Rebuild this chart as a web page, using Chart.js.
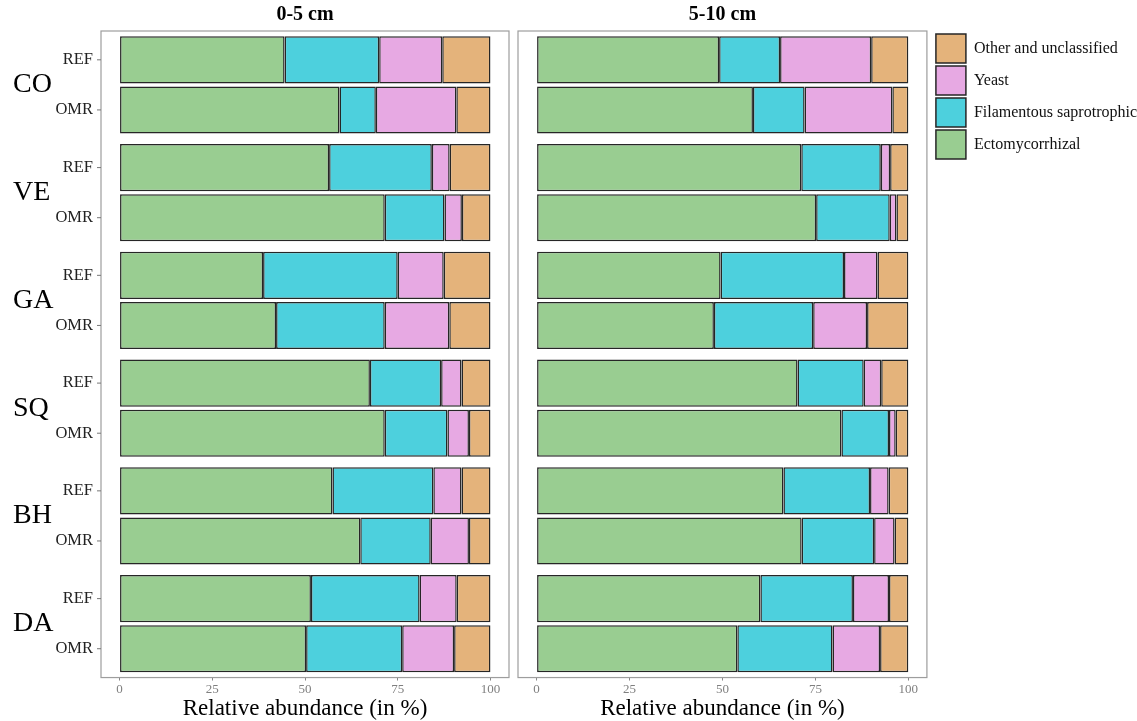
<!DOCTYPE html>
<html>
<head>
<meta charset="utf-8">
<script src="https://cdn.jsdelivr.net/npm/chart.js@4.4.0/dist/chart.umd.min.js"></script>
<style>
  body { margin: 0; background: #fff; }
  #wrap { position: relative; width: 1137px; height: 721px; overflow: hidden; }
  canvas { position: absolute; top: 0; }
</style>
</head>
<body>
<div id="wrap">
  <canvas id="chart1" width="510" height="721" style="left:0"></canvas>
  <canvas id="chart2" width="631" height="721" style="left:510px"></canvas>
</div>
<script>
// categories
const sites = ['CO', 'VE', 'GA', 'SQ', 'BH', 'DA'];
const treatments = ['REF', 'OMR'];
const groups = ['Ectomycorrhizal', 'Filamentous saprotrophic', 'Yeast', 'Other and unclassified'];
const colors = ['#99cd91', '#4dd0dd', '#e7a9e3', '#e4b37b'];
const tickValues = [0, 25, 50, 75, 100];

// 0-5 cm (values in %)
const ecto05Ref  = [44.5, 56.5, 38.7, 67.5, 57.4, 51.6];
const fila05Ref  = [25.5, 27.7, 36.3, 19.2, 27.2, 29.3];
const yeast05Ref = [17.0, 4.8, 12.4, 5.5, 7.6, 10.0];
const other05Ref = [13.0, 11.0, 12.6, 7.8, 7.8, 9.1];

const ecto05Omr  = [59.3, 71.5, 42.2, 71.5, 64.9, 50.3];
const fila05Omr  = [9.8, 16.1, 29.3, 16.9, 19.0, 25.9];
const yeast05Omr = [21.7, 4.7, 17.4, 5.8, 10.3, 14.0];
const other05Omr = [9.2, 7.7, 11.1, 5.8, 5.8, 9.8];

// 5-10 cm
const ecto510Ref  = [49.1, 71.2, 49.5, 70.2, 66.4, 60.2];
const fila510Ref  = [16.4, 21.4, 33.2, 17.8, 23.3, 24.9];
const yeast510Ref = [24.5, 2.5, 9.0, 4.7, 5.0, 9.7];
const other510Ref = [10.0, 4.9, 8.3, 7.3, 5.3, 5.2];

const ecto510Omr  = [58.2, 75.2, 47.7, 82.0, 71.3, 54.0];
const fila510Omr  = [13.9, 19.8, 26.7, 12.8, 19.5, 25.6];
const yeast510Omr = [23.6, 1.8, 14.5, 1.8, 5.5, 12.8];
const other510Omr = [4.3, 3.2, 11.1, 3.4, 3.7, 7.6];

const FONT = 'Liberation Serif';

// one dataset per group and treatment, REF stack drawn above OMR
function makeDatasets(refLists, omrLists) {
  const out = [];
  [refLists, omrLists].forEach((lists, t) => {
    lists.forEach((vals, g) => {
      out.push({
        label: groups[g],
        data: vals,
        stack: treatments[t],
        backgroundColor: colors[g],
        borderColor: '#262626',
        borderWidth: 1.5,
        borderSkipped: false,
        categoryPercentage: 0.93,
        barPercentage: 0.94
      });
    });
  });
  return out;
}

// grey frame around each panel
const panelBox = {
  id: 'panelBox',
  beforeDatasetsDraw(chart) {
    const a = chart.chartArea, ctx = chart.ctx;
    ctx.save();
    ctx.strokeStyle = '#9d9d9d';
    ctx.lineWidth = 1.2;
    ctx.strokeRect(a.left, a.top, a.right - a.left, a.bottom - a.top);
    ctx.restore();
  }
};

// leave a small gap between the panel and the legend keys
const legendGap = {
  id: 'legendGap',
  afterLayout(chart) {
    if (chart.legend) chart.legend.left = chart.chartArea.right + 6;
  }
};

// site names + REF/OMR labels on the left panel
const siteLabels = {
  id: 'siteLabels',
  afterDraw(chart) {
    const ctx = chart.ctx, a = chart.chartArea;
    const refMeta = chart.getDatasetMeta(0);
    const omrMeta = chart.getDatasetMeta(4);
    const yScale = chart.scales.y;
    ctx.save();
    sites.forEach((s, i) => {
      const yc = yScale.getPixelForValue(i);
      ctx.fillStyle = '#000';
      ctx.font = '28px "' + FONT + '"';
      ctx.textAlign = 'left';
      ctx.textBaseline = 'middle';
      ctx.fillText(s, 13, yc);

      [refMeta.data[i].y, omrMeta.data[i].y].forEach((y, t) => {
        ctx.font = '16.5px "' + FONT + '"';
        ctx.textAlign = 'right';
        ctx.fillStyle = '#222';
        ctx.fillText(treatments[t], a.left - 8, y);
        ctx.strokeStyle = '#777';
        ctx.lineWidth = 1;
        ctx.beginPath();
        ctx.moveTo(a.left - 4, y);
        ctx.lineTo(a.left, y);
        ctx.stroke();
      });
    });
    ctx.restore();
  }
};

function makeOptions(title, showLegend, pad) {
  return {
    indexAxis: 'y',
    responsive: false,
    animation: false,
    layout: { padding: pad },
    plugins: {
      title: {
        display: true,
        text: title,
        fullSize: false,
        color: '#000',
        font: { family: FONT, size: 20, weight: 'bold' },
        padding: { top: 3, bottom: 4 }
      },
      legend: {
        display: showLegend,
        position: 'right',
        align: 'start',
        fullSize: false,
        reverse: true,
        labels: {
          filter: item => item.datasetIndex < 4,
          boxWidth: 30,
          boxHeight: 29,
          padding: 3,
          color: '#111',
          font: { family: FONT, size: 16 }
        }
      },
      tooltip: { enabled: false }
    },
    scales: {
      x: {
        stacked: true,
        min: -5,
        max: 105,
        afterBuildTicks: s => { s.ticks = tickValues.map(v => ({ value: v })); },
        grid: { drawOnChartArea: false, drawTicks: true, tickLength: 3, color: '#888' },
        border: { display: false },
        ticks: { color: '#7f7f7f', padding: 1, maxRotation: 0, font: { family: FONT, size: 13 } },
        title: {
          display: true,
          text: 'Relative abundance (in %)',
          color: '#000',
          font: { family: FONT, size: 23, lineHeight: 0.95 },
          padding: { top: 0, bottom: 1 }
        }
      },
      y: {
        stacked: true,
        display: false
      }
    }
  };
}

const chart1 = new Chart(document.getElementById('chart1'), {
  type: 'bar',
  data: {
    labels: sites,
    datasets: makeDatasets([ecto05Ref, fila05Ref, yeast05Ref, other05Ref],
                           [ecto05Omr, fila05Omr, yeast05Omr, other05Omr])
  },
  options: makeOptions('0-5 cm', false, { left: 101, right: 1, top: 0, bottom: 0 }),
  plugins: [panelBox, siteLabels]
});

const chart2 = new Chart(document.getElementById('chart2'), {
  type: 'bar',
  data: {
    labels: sites,
    datasets: makeDatasets([ecto510Ref, fila510Ref, yeast510Ref, other510Ref],
                           [ecto510Omr, fila510Omr, yeast510Omr, other510Omr])
  },
  options: makeOptions('5-10 cm', true, { left: 8, right: 0, top: 0, bottom: 0 }),
  plugins: [panelBox, legendGap]
});
</script>
</body>
</html>
